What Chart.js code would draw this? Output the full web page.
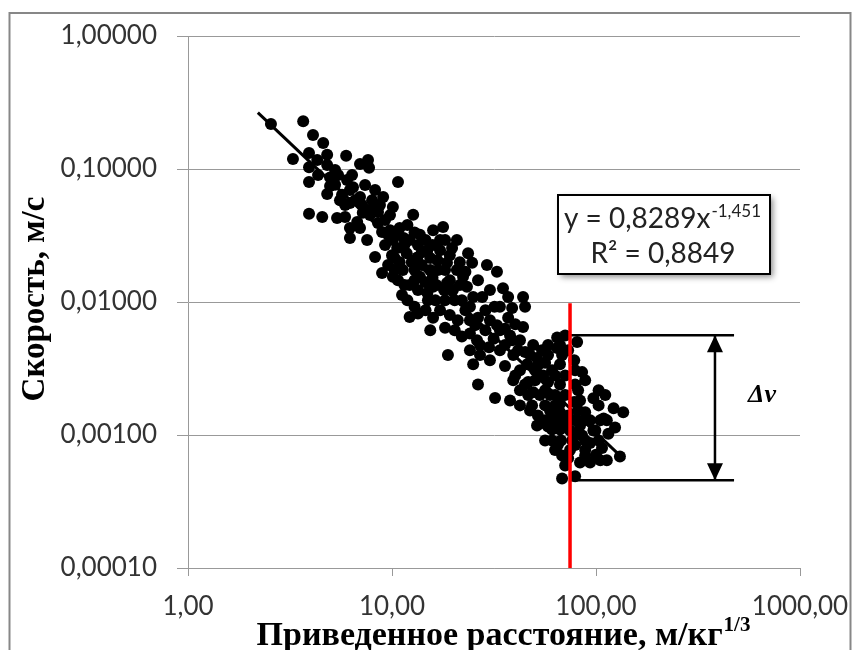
<!DOCTYPE html>
<html>
<head>
<meta charset="utf-8">
<script src="https://cdn.jsdelivr.net/npm/chart.js@4.4.0/dist/chart.umd.min.js"></script>
<style>
  body { margin: 0; background: #fff; }
  .wrap { width: 855px; height: 650px; position: relative; }
</style>
</head>
<body>
<div class="wrap"><canvas class="chart1"></canvas></div>
<script>
// приведенное расстояние, м/кг^(1/3)
const distance = [
  2.55, 3.67, 4.10, 4.60, 3.27, 3.92, 4.81, 4.30, 5.96, 6.97,
  7.63, 7.72, 3.92, 4.81, 3.92, 4.81, 5.44, 6.02, 6.44, 6.97,
  8.26, 9.05, 10.1, 10.7, 7.55, 3.92, 4.55, 5.38, 5.89, 4.97,
  5.26, 6.22, 6.22, 7.99, 8.73, 7.19, 6.22, 6.22, 7.55, 8.54,
  8.94, 9.78, 10.9, 12.7, 11.9, 13.7, 15.9, 17.8, 20.8, 17.2,
  10.1, 10.6, 11.8, 13.3, 14.9, 16.7, 8.26, 9.57, 8.94, 10.1,
  11.3, 12.2, 11.2, 13.7, 15.4, 18.6, 20.8, 23.6, 24.7, 22.3,
  18.6, 15.9, 14.9, 19.9, 23.3, 25.0, 29.2, 32.7, 35.0, 37.1,
  43.9, 44.9, 38.8, 33.8, 31.8, 12.2, 12.9, 15.4, 18.8, 24.1,
  26.1, 29.9, 32.7, 35.8, 43.9, 38.8, 25.0, 33.8, 39.3, 49.2,
  54.4, 51.4, 46.0, 30.2, 64.5, 80.8, 64.5, 42.4, 40.2, 39.3,
  42.4, 46.5, 49.2, 55.0, 26.4, 32.0, 37.9, 48.6, 51.9, 51.4,
  61.6, 66.6, 59.5, 85.5, 88.5, 81.7, 103, 97.1, 103, 122,
  136, 113, 124, 88.5, 87.5, 60.9, 66.6, 27.0, 24.1, 30.2,
  111, 109, 115, 47.5, 56.3, 53.1, 63.0, 60.9, 68.2, 74.6,
  88.5, 93.5, 105, 113, 131, 68.2, 79.0, 83.5, 81.7, 93.5,
  107, 99.3, 88.5, 100, 5.26, 5.69, 6.60, 7.13, 7.80, 8.54,
  9.25, 6.75, 9.78, 5.89, 10.3, 10.9, 11.5, 12.5, 12.9, 14.0,
  14.6, 15.8, 16.8, 18.0, 19.2, 20.3, 18.2, 16.3, 13.4, 12.2,
  13.4, 14.6, 9.25, 10.0, 10.7, 15.4, 17.2, 19.2, 21.5, 22.0,
  17.2, 19.2, 21.0, 22.9, 24.1, 14.6, 15.9, 18.2, 26.4, 28.7,
  27.0, 31.5, 35.8, 41.5, 37.1, 40.2, 28.7, 56.3, 60.9, 66.6,
  70.6, 78.2, 73.0, 79.0, 66.6, 58.2, 53.1, 70.6, 78.2, 63.0,
  73.0, 79.0, 67.4, 58.2, 74.6, 67.4, 79.0, 63.0, 70.6, 83.5,
  50.3, 44.9, 56.3, 47.5, 58.2, 70.6, 66.6, 83.5, 93.5, 103, 85.5,
  9.57, 10.5, 11.4, 12.9, 14.0, 15.8, 18.2, 19.7, 21.5, 18.2,
  16.5, 15.0, 12.9, 11.5, 10.3, 11.9, 13.4, 22.9, 26.4, 27.7,
  24.1, 30.2, 20.3, 22.0, 25.6, 4.34, 4.97, 5.56, 6.37, 7.38,
  8.26, 6.97, 33.8, 37.9, 42.4, 44.9, 35.8, 50.3, 56.3, 63.0,
  59.5, 66.6, 70.6, 63.0, 68.2, 58.2, 51.9, 79.0, 81.7, 76.4,
  65.0, 73.0, 88.5, 97.1, 105, 46.5, 42.4, 56.3
];
// скорость, м/с
const speed = [
  0.218, 0.229, 0.180, 0.157, 0.119, 0.132, 0.128, 0.117, 0.126, 0.109,
  0.117, 0.102, 0.103, 0.107, 0.080, 0.065, 0.090, 0.0825, 0.073, 0.0616,
  0.0694, 0.0616, 0.0518, 0.080, 0.0491, 0.046, 0.0436, 0.0428, 0.0436, 0.0746,
  0.0982, 0.0694, 0.0556, 0.0583, 0.0537, 0.0468, 0.036, 0.0303, 0.0292, 0.0393,
  0.0336, 0.0347, 0.036, 0.0452, 0.038, 0.032, 0.0347, 0.0367, 0.0292, 0.0292,
  0.0292, 0.0255, 0.0233, 0.0216, 0.0245, 0.0206, 0.0218, 0.019, 0.0165, 0.0155,
  0.0174, 0.0134, 0.0113, 0.0155, 0.0174, 0.0197, 0.0174, 0.0233, 0.0197, 0.0155,
  0.0139, 0.013, 0.0117, 0.0123, 0.013, 0.0109, 0.019, 0.0169, 0.0127, 0.0109,
  0.0109, 0.0092, 0.009, 0.0092, 0.0092, 0.0077, 0.0092, 0.00614, 0.004, 0.0058,
  0.00516, 0.00456, 0.0067, 0.0063, 0.0065, 0.00516, 0.0034, 0.00434, 0.004, 0.00475,
  0.00434, 0.0038, 0.0034, 0.0073, 0.0054, 0.005, 0.0045, 0.00307, 0.0028, 0.00258,
  0.00217, 0.0025, 0.0021, 0.0028, 0.0024, 0.0019, 0.00182, 0.00167, 0.0014, 0.00118,
  0.00136, 0.00172, 0.002, 0.00297, 0.00258, 0.00217, 0.00217, 0.00189, 0.00167, 0.00159,
  0.00148, 0.00129, 0.00114, 0.00148, 0.00129, 0.0011, 0.0011, 0.004, 0.00434, 0.00365,
  0.002, 0.00133, 0.00102, 0.00153, 0.00167, 0.00122, 0.00118, 0.00091, 0.0007, 0.00077,
  0.00077, 0.00062, 0.000645, 0.000645, 0.00069, 0.00047, 0.00049, 0.00118, 0.00103, 0.00087,
  0.0008, 0.00108, 0.00091, 0.00071, 0.076, 0.064, 0.0583, 0.0537, 0.045, 0.0475,
  0.0413, 0.04, 0.045, 0.0537, 0.0214, 0.0199, 0.0268, 0.0199, 0.0174, 0.019,
  0.0141, 0.0152, 0.0174, 0.0123, 0.0146, 0.0103, 0.0103, 0.0103, 0.0123, 0.0292,
  0.0268, 0.0292, 0.0268, 0.0225, 0.0146, 0.0214, 0.0245, 0.0225, 0.0134, 0.0103,
  0.00868, 0.008, 0.0073, 0.00868, 0.0073, 0.00868, 0.0076, 0.0064, 0.0076, 0.00614,
  0.00475, 0.0053, 0.00475, 0.00434, 0.0076, 0.0068, 0.00868, 0.0035, 0.00307, 0.0034,
  0.0028, 0.00365, 0.00434, 0.0024, 0.0024, 0.0025, 0.002, 0.002, 0.00177, 0.00167,
  0.0014, 0.00129, 0.00125, 0.00116, 0.00108, 0.00091, 0.00084, 0.00077, 0.00059, 0.00062,
  0.00307, 0.0024, 0.00091, 0.004, 0.00475, 0.0056, 0.00475, 0.00182, 0.00129, 0.00091, 0.00099,
  0.032, 0.0333, 0.0303, 0.0333, 0.0237, 0.0268, 0.0292, 0.0255, 0.0199, 0.0174,
  0.0134, 0.0103, 0.0146, 0.0134, 0.0174, 0.0103, 0.0082, 0.0169, 0.0146, 0.0109,
  0.0092, 0.0123, 0.00614, 0.0055, 0.0067, 0.090, 0.0865, 0.0583, 0.090, 0.0757,
  0.0537, 0.036, 0.00614, 0.0056, 0.00516, 0.0042, 0.0033, 0.00258, 0.00217, 0.002,
  0.00153, 0.00148, 0.00118, 0.0028, 0.004, 0.004, 0.00335, 0.00307, 0.00153, 0.00091,
  0.00084, 0.00067, 0.0007, 0.00108, 0.00129, 0.002, 0.00167, 0.00129
];

const xTicks = [1, 10, 100, 1000];
const yTicks = [0.0001, 0.001, 0.01, 0.1, 1];

// линия тренда y = 0,8289x^-1,451 (концы)
const trendX = [2.2, 138];
const trendY = [0.265, 0.00065];

// красная граница и размах Δv
const limitX = [74.6, 74.6];
const limitY = [0.0001, 0.0098];
const spanX = [74.6, 475];
const spanY = [0.00562, 0.000456];
const arrowX = 383;

const pts = (xs, ys) => xs.map((x, i) => ({ x: x, y: ys[i] }));

const decor = {
  id: 'decor',
  beforeDraw(chart) {
    const ctx = chart.ctx;
    ctx.save();
    ctx.strokeStyle = '#878787';
    ctx.lineWidth = 2;
    ctx.strokeRect(9.5, 13, 841, 700);
    ctx.restore();
  },
  afterDraw(chart) {
    const ctx = chart.ctx;
    const xs = chart.scales.x, ys = chart.scales.y;
    ctx.save();

    // наконечники стрелки
    const ax = xs.getPixelForValue(arrowX);
    const aTop = ys.getPixelForValue(spanY[0]);
    const aBot = ys.getPixelForValue(spanY[1]);
    ctx.fillStyle = '#000';
    ctx.beginPath();
    ctx.moveTo(ax, aTop); ctx.lineTo(ax - 8, aTop + 17); ctx.lineTo(ax + 8, aTop + 17);
    ctx.closePath(); ctx.fill();
    ctx.beginPath();
    ctx.moveTo(ax, aBot); ctx.lineTo(ax - 8, aBot - 17); ctx.lineTo(ax + 8, aBot - 17);
    ctx.closePath(); ctx.fill();

    // Δv
    ctx.font = 'bold italic 26px "Liberation Serif"';
    ctx.textAlign = 'center';
    ctx.textBaseline = 'middle';
    ctx.fillText('Δv', 762, 395);

    // уравнение
    ctx.save();
    ctx.shadowColor = 'rgba(0,0,0,0.45)';
    ctx.shadowBlur = 6;
    ctx.shadowOffsetX = 3;
    ctx.shadowOffsetY = 3;
    ctx.fillStyle = '#fff';
    ctx.fillRect(558, 195, 212, 79);
    ctx.restore();
    ctx.strokeStyle = '#000';
    ctx.lineWidth = 2;
    ctx.strokeRect(558, 195, 212, 79);

    ctx.fillStyle = '#222';
    ctx.textAlign = 'left';
    ctx.textBaseline = 'alphabetic';
    ctx.font = '28px Lato';
    const eq1 = 'y = 0,8289x', eq1sup = '-1,451';
    const w1 = ctx.measureText(eq1).width;
    ctx.font = '17px Lato';
    const w1s = ctx.measureText(eq1sup).width;
    const x1 = 662 - (w1 + w1s) / 2;
    ctx.font = '28px Lato';
    ctx.fillText(eq1, x1, 228);
    ctx.font = '17px Lato';
    ctx.fillText(eq1sup, x1 + w1 + 1, 217);
    ctx.font = '28px Lato';
    ctx.textAlign = 'center';
    ctx.fillText('R² = 0,8849', 663, 263);

    // подписи осей
    ctx.fillStyle = '#000';
    ctx.textAlign = 'left';
    ctx.font = 'bold 34px "Liberation Serif"';
    const xt = 'Приведенное расстояние, м/кг', xtSup = '1/3';
    const wt = ctx.measureText(xt).width;
    ctx.font = 'bold 21px "Liberation Serif"';
    const wts = ctx.measureText(xtSup).width;
    const tx = 503 - (wt + wts) / 2;
    ctx.font = 'bold 34px "Liberation Serif"';
    ctx.fillText(xt, tx, 645);
    ctx.font = 'bold 21px "Liberation Serif"';
    ctx.fillText(xtSup, tx + wt + 1, 631);

    ctx.translate(35, 299);
    ctx.rotate(-Math.PI / 2);
    ctx.textAlign = 'center';
    ctx.textBaseline = 'middle';
    ctx.font = 'bold 33px "Liberation Serif"';
    ctx.fillText('Скорость, м/с', 0, 0);
    ctx.restore();
  }
};

const chart1 = document.querySelector('.chart1');

new Chart(chart1, {
  type: 'scatter',
  data: {
    datasets: [
      { data: pts(limitX, limitY), showLine: true, borderColor: '#ff0000', borderWidth: 3.5, pointRadius: 0, order: 0 },
      { data: pts(spanX, [spanY[0], spanY[0]]), showLine: true, borderColor: '#000', borderWidth: 2.5, pointRadius: 0, order: 1 },
      { data: pts(spanX, [spanY[1], spanY[1]]), showLine: true, borderColor: '#000', borderWidth: 2.5, pointRadius: 0, order: 1 },
      { data: pts([arrowX, arrowX], spanY), showLine: true, borderColor: '#000', borderWidth: 2.5, pointRadius: 0, order: 1 },
      { data: pts(trendX, trendY), showLine: true, borderColor: '#000', borderWidth: 3, pointRadius: 0, order: 1 },
      { data: pts(distance, speed), backgroundColor: '#000', borderWidth: 0, pointRadius: 6, order: 2 }
    ]
  },
  options: {
    responsive: true,
    maintainAspectRatio: false,
    animation: false,
    events: [],
    layout: { padding: { left: 0, top: 36, right: 55, bottom: 0 } },
    plugins: { legend: { display: false }, tooltip: { enabled: false } },
    scales: {
      x: {
        type: 'logarithmic',
        min: 1, max: 1000,
        afterBuildTicks: s => { s.ticks = xTicks.map(v => ({ value: v })); },
        afterFit: s => { s.height = 82; s.paddingLeft = 0; s.paddingRight = 0; },
        grid: { drawOnChartArea: false, color: '#999', tickLength: 8 },
        border: { color: '#999', width: 1 },
        ticks: {
          callback: v => Number(v).toFixed(2).replace('.', ','),
          font: { family: 'Lato', size: 26 },
          color: '#333', padding: 15, maxRotation: 0, autoSkip: false
        }
      },
      y: {
        type: 'logarithmic',
        min: 0.0001, max: 1,
        afterBuildTicks: s => { s.ticks = yTicks.map(v => ({ value: v })); },
        afterFit: s => { s.width = 188; s.paddingTop = 0; s.paddingBottom = 0; },
        grid: { color: '#999', tickLength: 11 },
        border: { color: '#999', width: 1 },
        ticks: {
          callback: v => Number(v).toFixed(5).replace('.', ','),
          font: { family: 'Lato', size: 26 },
          color: '#333', padding: 20, autoSkip: false
        }
      }
    }
  },
  plugins: [decor]
});
</script>
</body>
</html>
